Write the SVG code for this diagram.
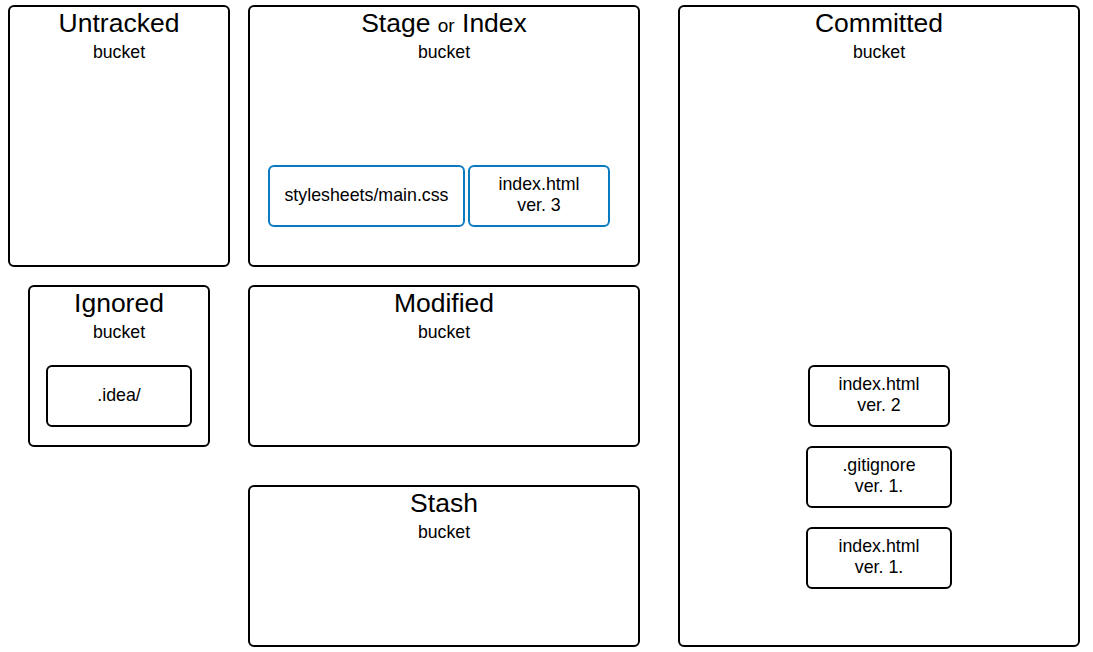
<svg xmlns="http://www.w3.org/2000/svg" width="1093" height="652" viewBox="0 0 1093 652">
<style>
.b{fill:#fff;stroke:#000;stroke-width:2}
.f{fill:#fff;stroke:#000;stroke-width:2}
.s{fill:#fff;stroke:#0b7bc1;stroke-width:2}
text{font-family:"Liberation Sans",Arial,sans-serif;fill:#000;text-anchor:middle}
.t{font-size:26.5px}
.o{font-size:19px}
.k{font-size:17.7px}
.l{font-size:17.8px}
</style>
<rect width="1093" height="652" fill="#fff"/>
<g id="untracked"><rect class="b" x="9" y="6" width="220" height="260" rx="5"/><text class="t" x="119" y="32">Untracked</text><text class="k" x="119" y="58">bucket</text></g>
<g id="stage"><rect class="b" x="249" y="6" width="390" height="260" rx="5"/><text class="t" x="444" y="32">Stage <tspan class="o">or</tspan> Index</text><text class="k" x="444" y="58">bucket</text></g>
<g id="committed"><rect class="b" x="679" y="6" width="400" height="640" rx="5"/><text class="t" x="879" y="32">Committed</text><text class="k" x="879" y="58">bucket</text></g>
<g id="ignored"><rect class="b" x="29" y="286" width="180" height="160" rx="5"/><text class="t" x="119" y="312">Ignored</text><text class="k" x="119" y="338">bucket</text></g>
<g id="modified"><rect class="b" x="249" y="286" width="390" height="160" rx="5"/><text class="t" x="444" y="312">Modified</text><text class="k" x="444" y="338">bucket</text></g>
<g id="stash"><rect class="b" x="249" y="486" width="390" height="160" rx="5"/><text class="t" x="444" y="512">Stash</text><text class="k" x="444" y="538">bucket</text></g>
<g id="main-css"><rect class="s" x="269" y="166" width="195" height="60" rx="5"/><text class="l" x="366.5" y="201">stylesheets/main.css</text></g>
<g id="index-v3"><rect class="s" x="469" y="166" width="140" height="60" rx="5"/><text class="l" x="539" y="190">index.html</text><text class="l" x="539" y="211">ver. 3</text></g>
<g id="idea"><rect class="f" x="47" y="366" width="144" height="60" rx="5"/><text class="l" x="119" y="401">.idea/</text></g>
<g id="index-v2"><rect class="f" x="809" y="366" width="140" height="60" rx="5"/><text class="l" x="879" y="390">index.html</text><text class="l" x="879" y="411">ver. 2</text></g>
<g id="gitignore-v1"><rect class="f" x="807" y="447" width="144" height="60" rx="5"/><text class="l" x="879" y="471">.gitignore</text><text class="l" x="879" y="492">ver. 1.</text></g>
<g id="index-v1"><rect class="f" x="807" y="528" width="144" height="60" rx="5"/><text class="l" x="879" y="552">index.html</text><text class="l" x="879" y="573">ver. 1.</text></g>
<g id="connectors"></g>
</svg>
